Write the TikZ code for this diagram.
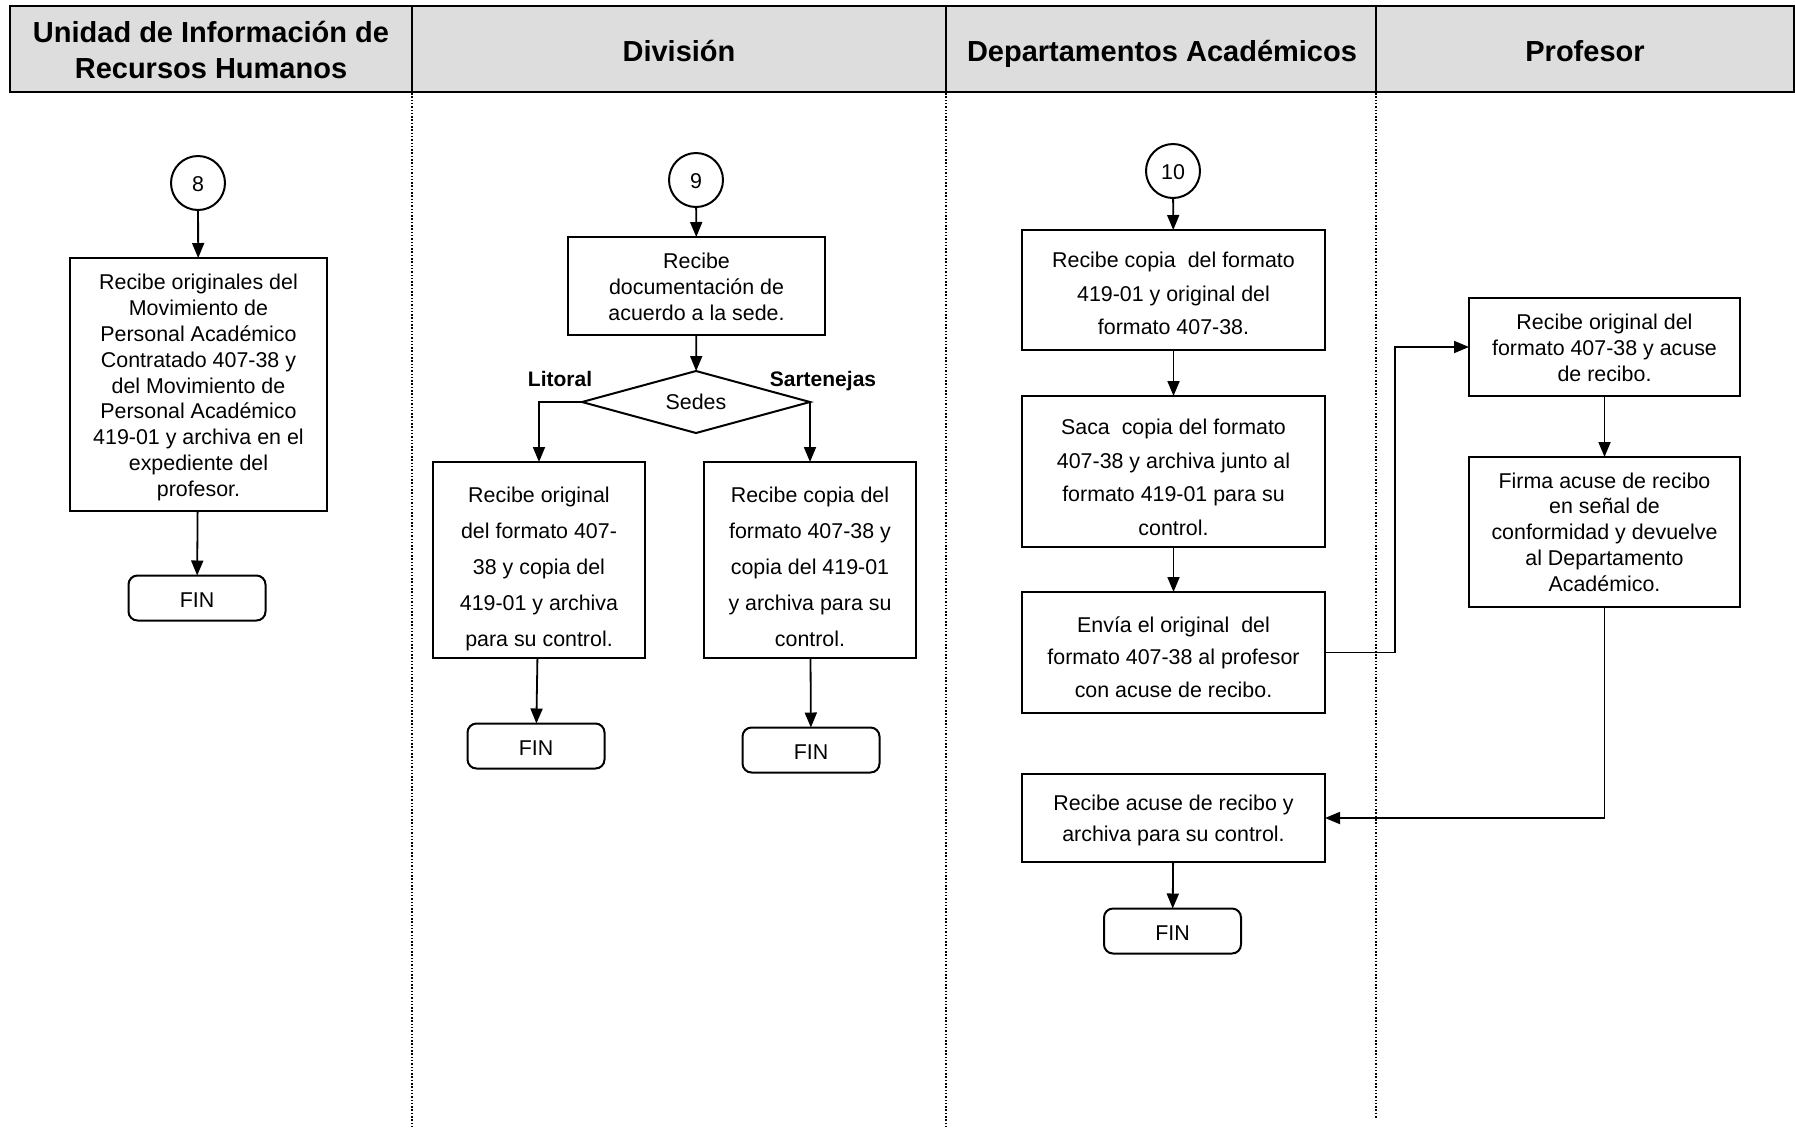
\documentclass[tikz,border=0pt]{standalone}
\usepackage{fontspec}
\setmainfont{Liberation Sans}
\usetikzlibrary{arrows.meta,shapes.geometric}
\definecolor{headgray}{HTML}{DDDDDD}
% body text at a fixed size, with the line spacing given as argument
\newcommand\bodyat[1]{\fontsize{21.4}{#1}\selectfont}
\begin{document}
\begin{tikzpicture}[x=1pt,y=-1pt,
  every node/.style={inner sep=0pt, outer sep=0pt},
  headtxt/.style={font=\fontsize{29}{36}\selectfont\bfseries, align=center},
  proc/.style={draw, line width=2pt, fill=white},
  boxtext/.style={align=center},
  circ/.style={draw, circle, line width=2pt, minimum size=54pt, text height=17.5pt,
               text depth=0pt, font=\bodyat{25.8}},
  term/.style={draw, rounded corners=9pt, line width=2pt, minimum width=137pt,
               minimum height=45pt, text height=19.5pt, text depth=0pt, font=\bodyat{25.8}},
  decision/.style={draw, diamond, line width=2pt, minimum width=228pt,
               minimum height=62pt, aspect=3.7, font=\bodyat{25.8}},
  branch/.style={anchor=base, font=\fontsize{21}{25}\selectfont\bfseries},
  flow/.style={line width=1.8pt, -{Triangle[length=15pt,width=12pt]}},
  lanesep/.style={line width=1.2pt, dash pattern=on 1.5pt off 1.8pt},
]
\useasboundingbox (0,0) rectangle (1795,1128);

% swimlane header
\fill[headgray] (10,6) rectangle (1794,92);
\draw[line width=2.6pt] (10,6) rectangle (1794,92);
\foreach \xx in {412,946,1376} \draw[line width=2pt] (\xx,6) -- (\xx,92);
\node[headtxt] (h1) at (211,50) {Unidad de Información de\\Recursos Humanos};
\node[headtxt, anchor=base] (h2) at (679,61) {División};
\node[headtxt, anchor=base] (h3) at (1162,61) {Departamentos Académicos};
\node[headtxt, anchor=base] (h4) at (1585,61) {Profesor};

% lane separators
\draw[lanesep] (412,93) -- (412,1128);
\draw[lanesep] (946,93) -- (946,1128);
\draw[lanesep] (1376,93) -- (1376,1118);

% lane 1: Unidad de Información de Recursos Humanos
\node[circ] (c8) at (198,183) {8};
\node[proc, minimum width=257pt, minimum height=253pt] (b1) at (198.5,384.5) {};
\node[boxtext, font=\bodyat{25.8}] (t1) at ([yshift=-3]b1.center)
  {Recibe originales del\\Movimiento de\\Personal Académico\\Contratado 407-38 y\\del Movimiento de\\Personal Académico\\419-01 y archiva en el\\expediente del\\profesor.};
\node[term] (f1) at (197,598) {FIN};
\draw[flow] (c8) -- (b1);
\draw[flow] (b1) -- (f1);

% lane 2: División
\node[circ] (c9) at (696,180) {9};
\node[proc, minimum width=257pt, minimum height=98pt] (b2) at (696.5,286) {};
\node[boxtext, font=\bodyat{25.8}] (t2) at ([yshift=-1]b2.center)
  {Recibe\\documentación de\\acuerdo a la sede.};
\node[decision] (d1) at (696,402) {Sedes};
\node[branch] (lit) at (560,386.5) {Litoral};
\node[branch] (sar) at (823,386.5) {Sartenejas};
\node[proc, minimum width=212pt, minimum height=196pt] (b3) at (539,560) {};
\node[boxtext, font=\bodyat{36}] (t3) at ([yshift=-9]b3.center)
  {Recibe original\\del formato 407-\\38 y copia del\\419-01 y archiva\\para su control.};
\node[proc, minimum width=212pt, minimum height=196pt] (b4) at (810,560) {};
\node[boxtext, font=\bodyat{36}] (t4) at ([yshift=-7]b4.center)
  {Recibe copia del\\formato 407-38 y\\copia del 419-01\\y archiva para su\\control.};
\node[term] (f2) at (536,746) {FIN};
\node[term] (f3) at (811,750) {FIN};
\draw[flow] (c9) -- (b2);
\draw[flow] (b2) -- (d1);
\draw[flow] (d1.west) -| (b3.north);
\draw[flow] (d1.east) -| (b4.north);
\draw[flow] (b3) -- (f2);
\draw[flow] (b4) -- (f3);

% lane 3: Departamentos Académicos
\node[circ] (c10) at (1173,171) {10};
\node[proc, minimum width=303pt, minimum height=120pt] (b5) at (1173.5,290) {};
\node[boxtext, font=\bodyat{33.2}] (t5) at ([yshift=-3.5]b5.center)
  {Recibe copia\ \ del formato\\419-01 y original del\\formato 407-38.};
\node[proc, minimum width=303pt, minimum height=151pt] (b6) at (1173.5,471.5) {};
\node[boxtext, font=\bodyat{33.6}] (t6) at ([yshift=-6]b6.center)
  {Saca\ \ copia del formato\\407-38 y archiva junto al\\formato 419-01 para su\\control.};
\node[proc, minimum width=303pt, minimum height=121pt] (b7) at (1173.5,652.5) {};
\node[boxtext, font=\bodyat{32.6}] (t7) at ([yshift=-4.5]b7.center)
  {Envía el original\ \ del\\formato 407-38 al profesor\\con acuse de recibo.};
\node[proc, minimum width=303pt, minimum height=88pt] (b8) at (1173.5,818) {};
\node[boxtext, font=\bodyat{31}] (t8) at ([yshift=-2.3]b8.center)
  {Recibe acuse de recibo y\\archiva para su control.};
\node[term] (f4) at (1172.5,931) {FIN};
\draw[flow] (c10) -- (b5);
\draw[flow] (b5) -- (b6);
\draw[flow] (b6) -- (b7);
\draw[flow] (b8) -- (f4);

% lane 4: Profesor
\node[proc, minimum width=271pt, minimum height=98pt] (b9) at (1604.5,347) {};
\node[boxtext, font=\bodyat{25.8}] (t9) at ([yshift=-1]b9.center)
  {Recibe original del\\formato 407-38 y acuse\\de recibo.};
\node[proc, minimum width=271pt, minimum height=150pt] (b10) at (1604.5,532) {};
\node[boxtext, font=\bodyat{25.8}] (t10) at (b10.center)
  {Firma acuse de recibo\\en señal de\\conformidad y devuelve\\al Departamento\\Académico.};
\draw[flow] (b9) -- (b10);

% hand-offs between lanes
\draw[flow] (b7.east) -- ++(70,0) |- (b9.west);
\draw[flow] (b10.south) |- (b8.east);
\end{tikzpicture}
\end{document}
